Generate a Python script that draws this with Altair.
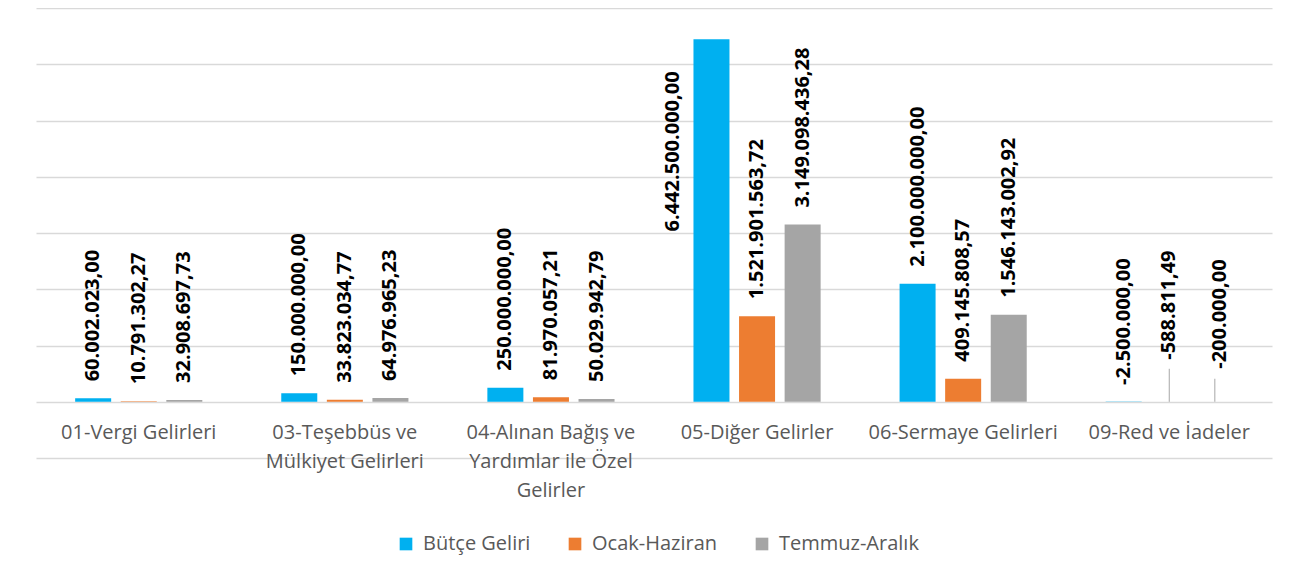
import altair as alt
import pandas as pd

categories = [
    "01-Vergi Gelirleri",
    "03-Teşebbüs ve\nMülkiyet Gelirleri",
    "04-Alınan Bağış ve\nYardımlar ile Özel\nGelirler",
    "05-Diğer Gelirler",
    "06-Sermaye Gelirleri",
    "09-Red ve İadeler",
]
series = ["Bütçe Geliri", "Ocak-Haziran", "Temmuz-Aralık"]
butce = [60002023.00, 150000000.00, 250000000.00, 6442500000.00, 2100000000.00, -2500000.00]
ocak = [10791302.27, 33823034.77, 81970057.21, 1521901563.72, 409145808.57, -588811.49]
temmuz = [32908697.73, 64976965.23, 50029942.79, 3149098436.28, 1546143002.92, -200000.00]
colors = ["#00B0F0", "#ED7D31", "#A5A5A5"]
y_ticks = [-1e9, 0, 1e9, 2e9, 3e9, 4e9, 5e9, 6e9, 7e9]


def tr(v):
    s = f"{v:,.2f}"
    return s.replace(",", "X").replace(".", ",").replace("X", ".")


rows = []
for s, vals in zip(series, [butce, ocak, temmuz]):
    for i, (c, v) in enumerate(zip(categories, vals)):
        rows.append({"cat": c, "idx": i, "series": s, "value": v, "label": tr(v)})
df = pd.DataFrame(rows)

W, H = 1236, 450
ymin, ymax = y_ticks[0], y_ticks[-1]
FONT = "Open Sans"

x_enc = alt.X(
    "cat:N",
    sort=categories,
    scale=alt.Scale(paddingInner=0.383, paddingOuter=0.19),
    axis=alt.Axis(
        title=None,
        labelAngle=0,
        domain=False,
        ticks=False,
        grid=False,
        labelExpr="split(datum.label, '\\n')",
        labelFont=FONT,
        labelFontSize=20,
        labelColor="#595959",
        labelLineHeight=29,
        labelPadding=21,
        offset=-H * (0 - ymin) / (ymax - ymin),
        labelLimit=400,
    ),
)
xo_enc = alt.XOffset("series:N", sort=series, scale=alt.Scale(paddingInner=0.21, paddingOuter=0))
y_enc = alt.Y(
    "value:Q",
    scale=alt.Scale(domain=[ymin, ymax], nice=False, zero=False),
    axis=alt.Axis(
        title=None, labels=False, ticks=False, domain=False, values=y_ticks,
        grid=True, gridColor="#d9d9d9", gridWidth=1.3,
    ),
)
color_enc = alt.Color(
    "series:N",
    sort=series,
    scale=alt.Scale(domain=series, range=colors),
    legend=alt.Legend(
        title=None, orient="none", legendX=360, legendY=H + 76,
        direction="horizontal", symbolType="square",
        symbolSize=160, labelFont=FONT, labelFontSize=20, labelColor="#595959",
        columnPadding=34, labelOffset=7, symbolStrokeWidth=0,
    ),
)

base = alt.Chart(df).encode(x=x_enc, xOffset=xo_enc, y=y_enc)

bars = base.mark_bar().encode(color=color_enc)

txt = dict(angle=270, baseline="middle", font=FONT, fontWeight="bold", fontSize=20, color="black")

is_big = "datum.value > 5000000000"
is_lead_o = "datum.idx == 5 && datum.series == 'Ocak-Haziran'"
is_lead_t = "datum.idx == 5 && datum.series == 'Temmuz-Aralık'"

labels_main = base.transform_filter(
    f"!({is_big}) && !({is_lead_o}) && !({is_lead_t})"
).mark_text(align="left", dx=17, **txt).encode(text="label:N")

label_big = base.transform_filter(is_big).mark_text(align="right", dx=-32, dy=-38, **txt).encode(text="label:N")

label_o = base.transform_filter(is_lead_o).mark_text(align="left", dx=42, **txt).encode(text="label:N")
lead_o = base.transform_filter(is_lead_o).mark_rule(color="#a6a6a6", strokeWidth=1, y2Offset=-33).encode(y2="value:Q")

label_t = base.transform_filter(is_lead_t).mark_text(align="left", dx=33, dy=5, **txt).encode(text="label:N")
lead_t = base.transform_filter(is_lead_t).mark_rule(color="#a6a6a6", strokeWidth=1, y2Offset=-23).encode(y2="value:Q")

chart = alt.layer(bars, labels_main, label_big, lead_o, label_o, lead_t, label_t).properties(
    width=W, height=H, padding={"left": 28, "top": 0, "right": 5, "bottom": 5},
    background="white",
).configure_view(strokeWidth=0, stroke="transparent")

chart.save("out.html", embed_options={"renderer": "svg", "actions": False})
